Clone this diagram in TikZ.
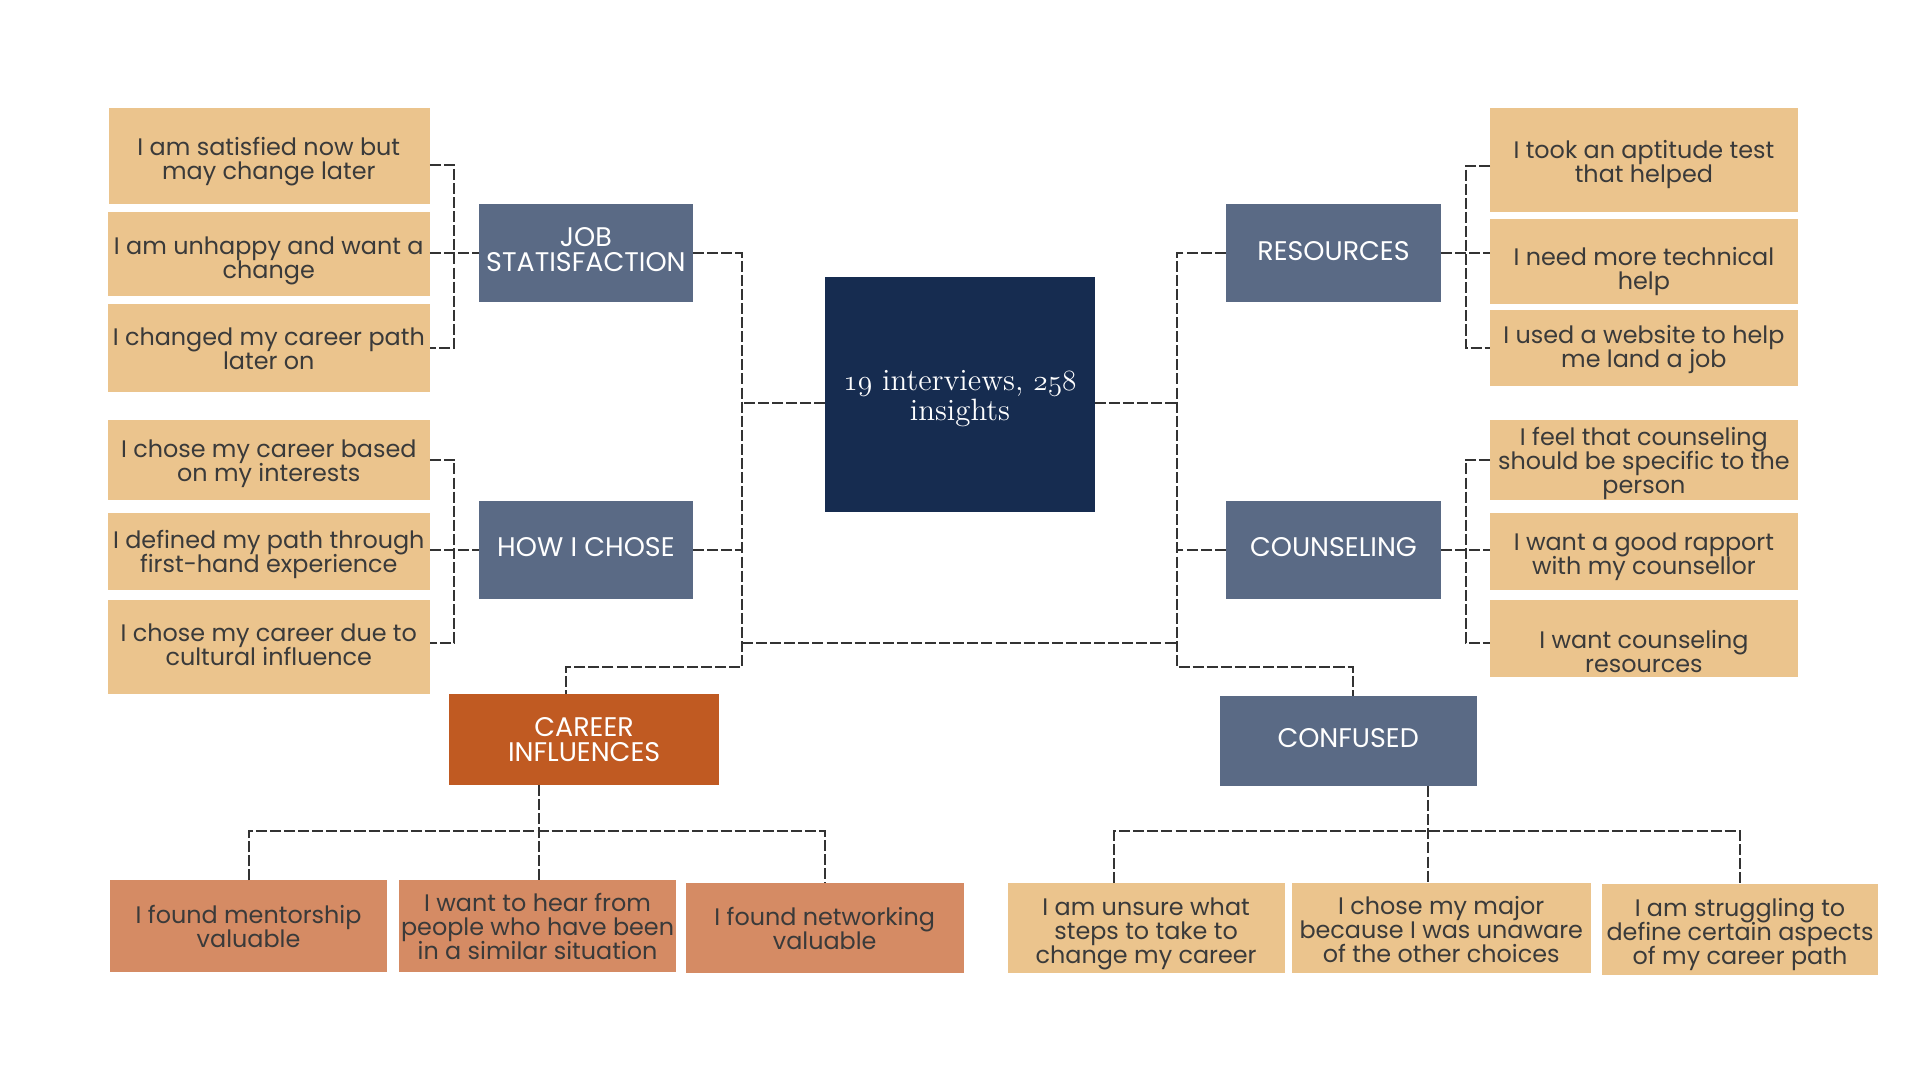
\documentclass[tikz,border=0pt]{standalone}
\usepackage{fontspec}
\setsansfont{Poppins}
\usetikzlibrary{fit,calc}
\definecolor{tanc}{HTML}{EBC48D}
\definecolor{slatec}{HTML}{5A6A85}
\definecolor{navyc}{HTML}{162C50}
\definecolor{rustc}{HTML}{C05A22}
\definecolor{salmonc}{HTML}{D58B64}
\definecolor{inkc}{HTML}{3A3A3A}
\definecolor{wirec}{HTML}{333333}
\newcommand\osnum[1]{{\usefont{OML}{cmm}{m}{it}#1}}
\newcommand\tightlines{\lineskiplimit=-20pt\relax\lineskip=0pt\relax}
\begin{document}
\begin{tikzpicture}[x=0.5pt,y=-0.5pt,
  boxbase/.style={inner sep=0pt, outer sep=0pt, draw=none},
  tanbox/.style={boxbase, fill=tanc},
  slatebox/.style={boxbase, fill=slatec},
  navybox/.style={boxbase, fill=navyc},
  rustbox/.style={boxbase, fill=rustc},
  salmonbox/.style={boxbase, fill=salmonc},
  itemtext/.style={font={\sffamily\fontsize{9.75}{9.8}\selectfont\tightlines}, text=inkc, align=center, inner sep=0pt, yshift=-1.5pt},
  cattext/.style={font={\sffamily\fontsize{11}{10}\selectfont\tightlines}, text=white, align=center, inner sep=0pt},
  hubtext/.style={font={\rmfamily\fontsize{12.6}{12.2}\selectfont\tightlines}, text=white, align=center, inner sep=0pt, yshift=-1.2pt},
  conn/.style={draw=wirec, line width=0.82pt, dash pattern=on 4.5pt off 1.25pt}]
\useasboundingbox (0,0) rectangle (1568,882);
\fill[white] (0,0) rectangle (1568,882);

% ---- boxes ----
\node[tanbox, fit={(89,88) (351,167)}] (B1) {};
\node[tanbox, fit={(88,173) (351,242)}] (B2) {};
\node[tanbox, fit={(88,248) (351,320)}] (B3) {};
\node[tanbox, fit={(88,343) (351,408)}] (B4) {};
\node[tanbox, fit={(88,419) (351,482)}] (B5) {};
\node[tanbox, fit={(88,490) (351,567)}] (B6) {};
\node[slatebox, fit={(391,167) (566,247)}] (JOB) {};
\node[slatebox, fit={(391,409) (566,489)}] (HOW) {};
\node[navybox, fit={(674,226) (894,418)}] (CENTER) {};
\node[slatebox, fit={(1001,167) (1177,247)}] (RES) {};
\node[slatebox, fit={(1001,409) (1177,489)}] (COUN) {};
\node[tanbox, fit={(1217,88) (1468,173)}] (R1) {};
\node[tanbox, fit={(1217,179) (1468,248)}] (R2) {};
\node[tanbox, fit={(1217,253) (1468,315)}] (R3) {};
\node[tanbox, fit={(1217,343) (1468,408)}] (R4) {};
\node[tanbox, fit={(1217,419) (1468,482)}] (R5) {};
\node[tanbox, fit={(1217,490) (1468,553)}] (R6) {};
\node[rustbox, fit={(367,567) (587,641)}] (CAREER) {};
\node[slatebox, fit={(996,568) (1206,642)}] (CONF) {};
\node[salmonbox, fit={(90,719) (316,794)}] (C1) {};
\node[salmonbox, fit={(326,719) (552,794)}] (C2) {};
\node[salmonbox, fit={(560,721) (787,795)}] (C3) {};
\node[tanbox, fit={(823,721) (1049,795)}] (D1) {};
\node[tanbox, fit={(1055,721) (1299,795)}] (D2) {};
\node[tanbox, fit={(1308,722) (1534,796)}] (D3) {};

% ---- texts ----
\node[itemtext] (B1t) at (219.5,129) {I am satisfied now but\\may change later};
\node[itemtext] (B2t) at (219.5,210) {I am unhappy and want a\\change};
\node[itemtext] (B3t) at (219.5,281.5) {I changed my career path\\later on};
\node[itemtext] (B4t) at (219.5,376) {I chose my career based\\on my interests};
\node[itemtext] (B5t) at (219.5,449.5) {I defined my path through\\first-hand experience};
\node[itemtext] (B6t) at (219.5,523.5) {I chose my career due to\\cultural influence};
\node[cattext] (JOBt) at (478.5,204) {JOB\\STATISFACTION};
\node[cattext] (HOWt) at (478.5,447) {HOW I CHOSE};
\node[hubtext] (CENTERt) at (784,323) {\osnum{19} interviews, \osnum{258}\\insights};
\node[cattext] (RESt) at (1089,205) {RESOURCES};
\node[cattext] (COUNt) at (1089,447) {COUNSELING};
\node[itemtext] (R1t) at (1342.5,131) {I took an aptitude test\\that helped};
\node[itemtext] (R2t) at (1342.5,219) {I need more technical\\help};
\node[itemtext] (R3t) at (1342.5,282.5) {I used a website to help\\me land a job};
\node[itemtext] (R4t) at (1342.5,375.5) {I feel that counseling\\should be specific to the\\person};
\node[itemtext] (R5t) at (1342.5,452) {I want a good rapport\\with my counsellor};
\node[itemtext] (R6t) at (1342.5,529) {I want counseling\\resources};
\node[cattext] (CAREERt) at (477,604) {CAREER\\INFLUENCES};
\node[cattext] (CONFt) at (1101,603) {CONFUSED};
\node[itemtext] (C1t) at (203,754) {I found mentorship\\valuable};
\node[itemtext] (C2t) at (439,754) {I want to hear from\\people who have been\\in a similar situation};
\node[itemtext] (C3t) at (673.5,755.5) {I found networking\\valuable};
\node[itemtext] (D1t) at (936,759.5) {I am unsure what\\steps to take to\\change my career};
\node[itemtext] (D2t) at (1177,756.5) {I chose my major\\because I was unaware\\of the other choices};
\node[itemtext] (D3t) at (1421,760.5) {I am struggling to\\define certain aspects\\of my career path};

% ---- connectors ----
\coordinate (jbr) at (371,207);
\draw[conn] ($(B1.east)+(0,7.5)$) -| (jbr) |- (B3.east);
\draw[conn] (B2.east |- JOB.west) -- (JOB.west);
\coordinate (hbr) at (371,449);
\draw[conn] (B4.east) -| (hbr) |- ($(B6.east)+(0,-3)$);
\draw[conn] (B5.east |- HOW.west) -- (HOW.west);

\coordinate (rbr) at (1197,207);
\draw[conn] ($(R1.west)+(0,5)$) -| (rbr) |- (R3.west);
\draw[conn] (RES.east) -- (RES.east -| R2.west);
\coordinate (cbr) at (1197,449);
\draw[conn] (R4.west) -| (cbr) |- ($(R6.west)+(0,4)$);
\draw[conn] (COUN.east) -- (COUN.east -| R5.west);

\coordinate (lb) at (606,545);
\coordinate (rb) at (961,545);
\coordinate (lm) at (606,525);
\coordinate (rm) at (961,525);
\draw[conn] (JOB.east) -| (lb) -| ($(CAREER.north)+(-15,0)$);
\draw[conn] (HOW.east) -- (HOW.east -| lb);
\draw[conn] ($(CENTER.west)+(0,7)$) -- ($(CENTER.west -| lb)+(0,7)$);
\draw[conn] (lm) -- (rm);
\draw[conn] (RES.west) -| (rb) -| ($(CONF.north)+(4,0)$);
\draw[conn] (COUN.west) -- (COUN.west -| rb);
\draw[conn] ($(CENTER.east)+(0,7)$) -- ($(CENTER.east -| rb)+(0,7)$);

\coordinate (cj) at (440,679);
\draw[conn] (cj |- CAREER.south) -- (cj |- C2.north);
\draw[conn] (C1.north) |- (cj) -| (C3.north);
\coordinate (dj) at (1166,679);
\draw[conn] (dj |- CONF.south) -- (dj |- D2.north);
\draw[conn] ($(D1.north)+(-26,0)$) |- (dj) -| (D3.north);
\end{tikzpicture}
\end{document}
